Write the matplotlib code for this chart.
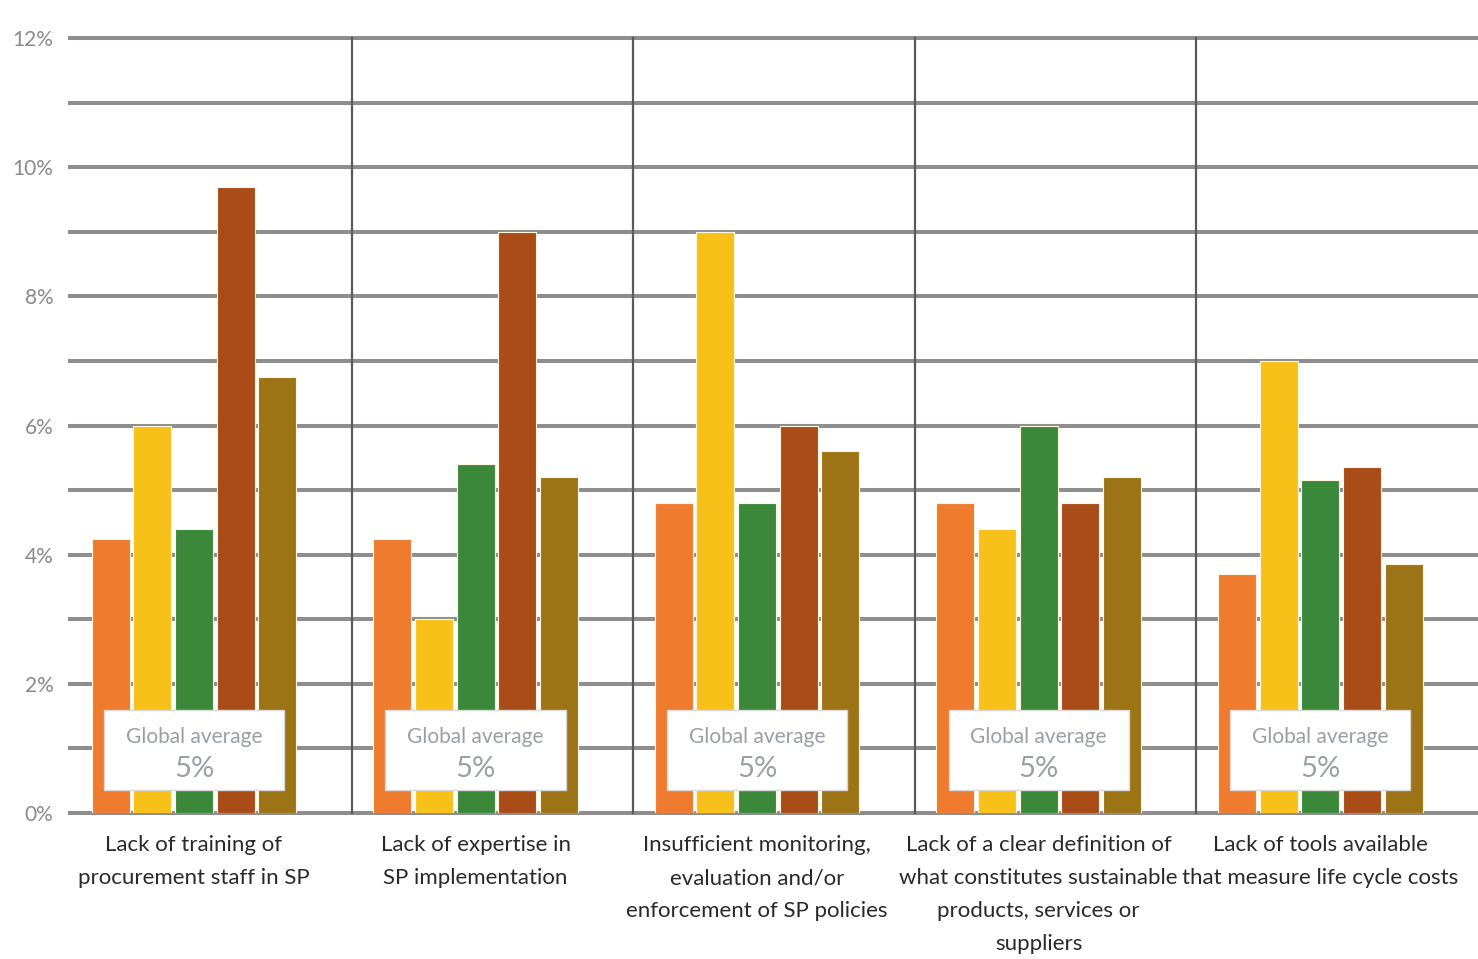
import numpy as np
import matplotlib.pyplot as plt

categories = ["Lack of training of\nprocurement staff in SP",
              "Lack of expertise in\nSP implementation",
              "Insufficient monitoring,\nevaluation and/or\nenforcement of SP policies",
              "Lack of a clear definition of\nwhat constitutes sustainable\nproducts, services or\nsuppliers",
              "Lack of tools available\nthat measure life cycle costs"]

# one list per bar colour, values in %
s_orange = [4.25, 4.25, 4.8, 4.8, 3.7]
s_yellow = [6.0, 3.0, 9.0, 4.4, 7.0]
s_green = [4.4, 5.4, 4.8, 6.0, 5.15]
s_brown = [9.7, 9.0, 6.0, 4.8, 5.35]
s_olive = [6.75, 5.2, 5.6, 5.2, 3.85]
global_avg = [5, 5, 5, 5, 5]

series = [s_orange, s_yellow, s_green, s_brown, s_olive]
colors = ['#EE7B2E', '#F8C11A', '#3B883A', '#A94C18', '#9C7415']

fig = plt.figure(figsize=(14.78, 9.59), dpi=100)
ax = fig.add_axes([0.0474, 0.1522, 0.9526, 0.8082])

x = np.arange(len(categories))
w = 0.135
step = 0.148
for k, (vals, c) in enumerate(zip(series, colors)):
    ax.bar(x + (k - 2) * step, vals, width=w, color=c, zorder=3,
           edgecolor='#fff6e0', linewidth=0.8)

# horizontal grid every 1%
for yv in range(0, 13):
    ax.axhline(yv, color='#8e8e8e', lw=2.9, zorder=1, clip_on=False)

# group separators
for sep in x[:-1] + 0.56:
    ax.plot([sep, sep], [0, 12], color='#5a5a5a', lw=1.6, zorder=2, clip_on=False)

# global average boxes
for i, g in enumerate(global_avg):
    ax.add_patch(plt.Rectangle((i - 0.32, 0.35), 0.64, 1.25, facecolor='white',
                               edgecolor='#d8d8d8', lw=1, zorder=4))
    ax.text(i, 1.18, "Global average", ha='center', va='center', fontsize=15,
            color='#9a9ea6', family='Lato', zorder=5)
    ax.text(i, 0.68, f"{g}%", ha='center', va='center', fontsize=21,
            color='#9a9ea6', family='Lato', zorder=5)

ax.set_xlim(-0.44, 4.56)
ax.set_ylim(0, 12)
ax.set_yticks(range(0, 13, 2))
ax.set_yticklabels([f"{v}%" for v in range(0, 13, 2)], fontsize=15,
                   color='#8a8a8a', family='Lato')
ax.set_xticks(x)
ax.set_xticklabels(categories, fontsize=16, color='#2a2a2a', family='Lato',
                   linespacing=1.8)
ax.tick_params(axis='both', length=0)
ax.tick_params(axis='x', pad=16)
ax.tick_params(axis='y', pad=12)
for s in ax.spines.values():
    s.set_visible(False)

fig.savefig('out.png', dpi=100)
